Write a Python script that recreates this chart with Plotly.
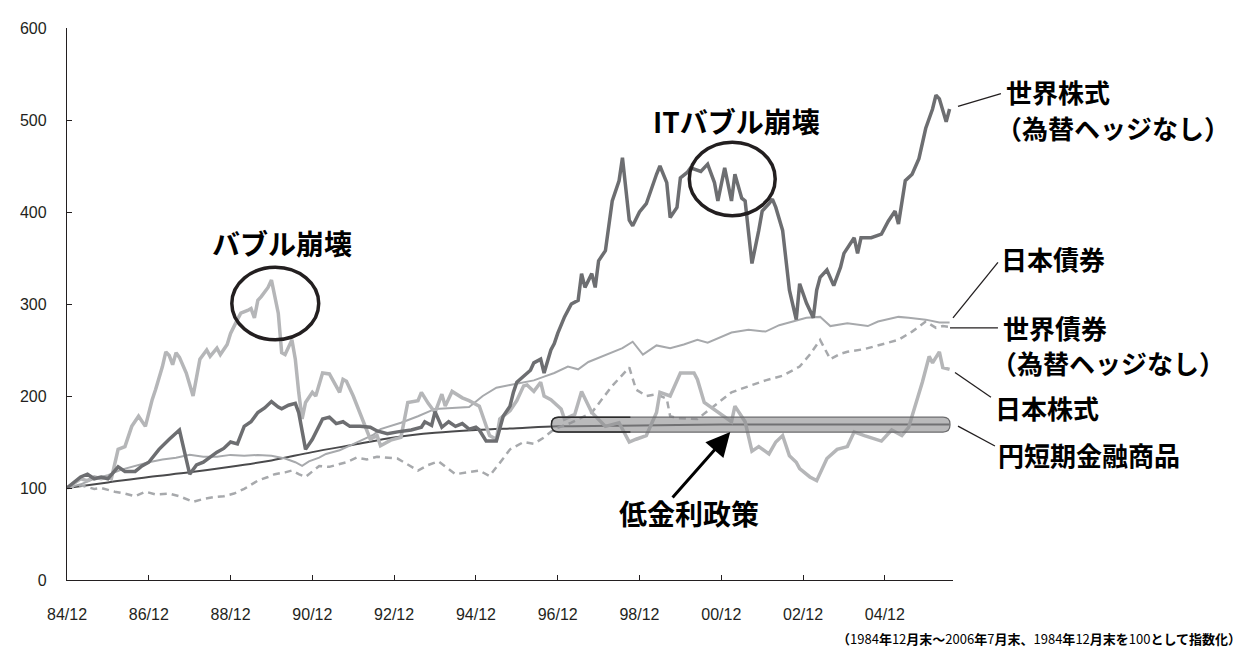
import plotly.graph_objects as go

# ---- data (month offset from 1984/12, index value) ----
tick_months = [0, 24, 48, 72, 96, 120, 144, 168, 192, 216, 240]
tick_labels = ["84/12", "86/12", "88/12", "90/12", "92/12", "94/12",
               "96/12", "98/12", "00/12", "02/12", "04/12"]
y_ticks = [0, 100, 200, 300, 400, 500, 600]

ws_month = [0, 2, 4, 6, 8, 10, 12, 15, 17, 20, 22, 24, 27, 30, 33, 36, 38, 40, 42, 44, 46, 48, 50, 52, 54,
            56, 58, 60, 62, 63, 65, 67, 68, 70, 72, 75, 77, 79, 81, 83, 86, 89, 91, 94, 97, 101, 104,
            105, 107, 108, 110, 112, 114, 116, 118, 120, 121, 123, 126, 128, 130, 131, 132, 134, 136,
            137, 139, 140, 142, 143, 144, 146, 148, 150, 151, 152, 154, 155, 156, 158, 160, 162, 163,
            165, 166, 168, 170, 173, 174, 176, 177, 179, 180, 182, 183, 186, 188, 190, 191, 193, 195,
            196, 198, 199, 201, 203, 204, 206, 207, 208, 210, 212, 214, 215, 217, 219, 220, 221, 223,
            225, 227, 228, 231, 232, 233, 236, 239, 241, 243, 244, 246, 248, 250, 252, 254, 255, 256,
            258, 259]
ws_value = [100, 106, 112, 115, 110, 112, 110, 123, 118, 118, 124, 128, 142, 153, 163, 115, 125, 128, 134,
            139, 143, 150, 148, 167, 172, 182, 187, 194, 188, 186, 190, 192, 182, 142, 153, 175, 177,
            170, 172, 167, 167, 166, 162, 159, 161, 163, 166, 172, 168, 183, 166, 172, 167, 170, 164,
            166, 163, 151, 151, 178, 189, 204, 215, 222, 228, 236, 240, 225, 250, 257, 268, 286, 300,
            304, 333, 318, 333, 318, 347, 358, 412, 434, 459, 391, 385, 400, 409, 441, 450, 432, 394,
            405, 437, 443, 448, 444, 452, 432, 412, 448, 412, 441, 415, 412, 344, 380, 401, 409, 414,
            405, 380, 315, 283, 322, 301, 285, 315, 329, 337, 320, 340, 355, 372, 355, 372, 372, 376,
            390, 401, 387, 434, 441, 458, 491, 512, 527, 523, 498, 512]

js_month = [0, 2, 4, 6, 8, 10, 12, 13, 15, 17, 19, 21, 23, 25, 26, 28, 29, 30, 31, 32, 33, 35, 37, 38,
            39, 41, 42, 44, 45, 47, 48, 50, 51, 53, 54, 55, 56, 57, 59, 60, 62, 63, 64, 66, 67, 68, 69,
            70, 72, 73, 75, 77, 79, 80, 81, 82, 84, 86, 88, 89, 91, 92, 95, 98, 100, 103, 104, 106,
            108, 110, 111, 113, 116, 118, 121, 122, 124, 126, 127, 130, 132, 134, 135, 137, 139, 140,
            142, 145, 146, 149, 151, 154, 158, 162, 165, 167, 170, 173, 174, 177, 180, 184, 185, 187,
            191, 195, 196, 199, 201, 203, 206, 208, 210, 212, 214, 215, 218, 220, 223, 226, 229, 231,
            234, 237, 239, 242, 245, 247, 248, 250, 251, 253, 254, 256, 257, 259]
js_value = [100, 105, 110, 108, 112, 110, 112, 110, 142, 145, 167, 178, 167, 196, 207, 232, 248, 244,
            234, 247, 242, 225, 200, 220, 240, 250, 243, 252, 245, 256, 268, 283, 290, 293, 295, 285,
            304, 308, 318, 326, 290, 247, 245, 261, 240, 204, 175, 193, 204, 200, 225, 224, 211, 204,
            218, 216, 200, 182, 164, 153, 157, 146, 152, 155, 193, 195, 204, 192, 182, 202, 189, 205,
            198, 195, 189, 178, 157, 153, 175, 184, 195, 211, 212, 205, 215, 200, 196, 186, 175, 180,
            205, 182, 167, 171, 150, 153, 157, 182, 204, 200, 225, 225, 218, 193, 182, 172, 189, 172,
            140, 145, 137, 150, 157, 135, 128, 121, 112, 108, 132, 142, 145, 161, 157, 153, 151, 163,
            157, 166, 178, 200, 215, 243, 236, 248, 231, 229]

jb_month = [0, 4, 8, 12, 16, 20, 24, 28, 32, 36, 40, 44, 48, 52, 56, 60, 64, 67, 69, 71, 74, 76, 80, 83,
            86, 90, 92, 98, 103, 108, 113, 118, 122, 126, 130, 133, 137, 140, 143, 147, 150, 153, 155,
            160, 163, 166, 169, 173, 177, 181, 185, 188, 191, 195, 200, 205, 209, 213, 217, 221, 224,
            229, 235, 238, 244, 247, 252, 256, 259]
jb_value = [100, 104, 110, 114, 120, 124, 128, 131, 133, 136, 134, 134, 136, 135, 136, 135, 132, 128,
            124, 129, 133, 137, 141, 146, 151, 158, 164, 171, 178, 186, 187, 188, 200, 209, 212, 214,
            217, 221, 225, 232, 229, 237, 240, 247, 252, 259, 245, 255, 252, 256, 261, 258, 263, 269,
            272, 270, 277, 281, 285, 286, 276, 279, 276, 281, 286, 285, 283, 280, 280]

wb_month = [0, 4, 8, 10, 14, 17, 20, 23, 26, 30, 33, 35, 37, 40, 43, 46, 49, 52, 56, 59, 61, 64, 66, 68,
            70, 72, 74, 77, 80, 82, 85, 88, 91, 97, 103, 106, 109, 112, 114, 121, 124, 128, 130, 134,
            137, 140, 143, 148, 154, 160, 165, 167, 170, 173, 176, 177, 179, 185, 191, 195, 198, 201,
            205, 210, 215, 218, 221, 224, 227, 229, 234, 239, 244, 248, 252, 255, 257, 259]
wb_value = [100, 103, 99, 100, 96, 94, 91, 96, 93, 94, 91, 88, 85, 88, 90, 91, 94, 99, 108, 112, 115,
            117, 119, 115, 112, 118, 124, 123, 126, 128, 133, 131, 134, 132, 119, 125, 129, 120, 115,
            119, 113, 132, 142, 150, 148, 155, 164, 171, 182, 211, 231, 207, 200, 202, 197, 178, 176,
            175, 193, 204, 208, 212, 217, 222, 232, 245, 261, 240, 246, 248, 251, 256, 261, 270, 281,
            274, 276, 275]

ys_month = [0, 12, 24, 36, 48, 60, 72, 84, 96, 108, 120, 132, 144, 168, 192, 216, 240, 259]
ys_value = [100, 106, 112, 117, 123, 130, 139, 147, 155, 160, 163, 165, 167, 168, 169, 169, 169, 169]

# ---- layout geometry (pixels) ----
W, H = 1254, 650
L, R, T, B = 58, 945, 16, 572


def fx(p):
    return (p - L) / (R - L)


def fy(p):
    return (B - p) / (B - T)


fig = go.Figure()
fig.add_trace(go.Scatter(x=ys_month, y=ys_value, mode="lines", line=dict(color="#4a4a4c", width=2, shape="spline")))
fig.add_trace(go.Scatter(x=wb_month, y=wb_value, mode="lines", line=dict(color="#a7a9ac", width=2.5, dash="7px,5px")))
fig.add_trace(go.Scatter(x=jb_month, y=jb_value, mode="lines", line=dict(color="#a7a9ac", width=2)))
fig.add_trace(go.Scatter(x=js_month, y=js_value, mode="lines", line=dict(color="#b5b6b8", width=3.5)))
fig.add_trace(go.Scatter(x=ws_month, y=ws_value, mode="lines", line=dict(color="#6d6e71", width=3.5)))

axis_font = dict(family="Liberation Sans, Arial", size=16, color="#231f20")
fig.update_layout(
    width=W, height=H,
    margin=dict(l=L, r=W - R, t=T, b=H - B, pad=0),
    plot_bgcolor="white", paper_bgcolor="white",
    showlegend=False,
    xaxis=dict(range=[0, 260], tickvals=tick_months, ticktext=tick_labels, showgrid=False,
               zeroline=False, showline=True, linecolor="#231f20", linewidth=1.3,
               ticks="inside", ticklen=5, tickcolor="#231f20", tickfont=axis_font,
               ticklabelstandoff=20),
    yaxis=dict(range=[0, 600], tickvals=y_ticks, showgrid=False, zeroline=False,
               showline=True, linecolor="#231f20", linewidth=1.3, ticks="inside",
               ticklen=5, tickcolor="#231f20", tickfont=axis_font, ticklabelstandoff=16),
)

cjk = "Noto Sans CJK JP"
shapes = []
# circles
for (x0, x1, y0, y1) in [(223, 310, 257, 330), (681, 767, 131, 205)]:
    shapes.append(dict(type="circle", xref="paper", yref="paper", x0=fx(x0), x1=fx(x1),
                       y0=fy(y1), y1=fy(y0), line=dict(color="#231f20", width=3.5)))

# rounded box (low-rate period)
bx0, bx1, by0, by1, rr = 543, 942, 408, 423, 7
rx, ry = rr / (R - L), rr / (B - T)
X0, X1, Yt, Yb = fx(bx0), fx(bx1), fy(by0), fy(by1)
path = (f"M {X0+rx},{Yt} L {X1-rx},{Yt} Q {X1},{Yt} {X1},{Yt-ry} L {X1},{Yb+ry} "
        f"Q {X1},{Yb} {X1-rx},{Yb} L {X0+rx},{Yb} Q {X0},{Yb} {X0},{Yb+ry} L {X0},{Yt-ry} "
        f"Q {X0},{Yt} {X0+rx},{Yt} Z")
shapes.append(dict(type="path", xref="paper", yref="paper", path=path, layer="above",
                   fillcolor="rgba(140,140,142,0.6)", line=dict(color="#6a6a6c", width=1.2)))
Xm = fx(622)
path2 = (f"M {Xm},{Yt} L {X0+rx},{Yt} Q {X0},{Yt} {X0},{Yt-ry} L {X0},{Yb+ry} "
         f"Q {X0},{Yb} {X0+rx},{Yb} L {Xm},{Yb}")
shapes.append(dict(type="path", xref="paper", yref="paper", path=path2, layer="above",
                   line=dict(color="#2a2a2a", width=1.4)))

# leader lines
for (a, b, c, d) in [(950, 95, 993, 82), (945, 308, 990, 252), (942, 318, 990, 318),
                     (947, 363, 983, 388), (950, 417, 987, 437)]:
    shapes.append(dict(type="line", xref="paper", yref="paper", x0=fx(a), y0=fy(b),
                       x1=fx(c), y1=fy(d), line=dict(color="#231f20", width=1.3)))
fig.update_layout(shapes=shapes)

ann = []


def label(text, xp, yp, size, anchor="center"):
    ann.append(dict(text=f"<b>{text}</b>", xref="paper", yref="paper", x=fx(xp), y=fy(yp),
                    xanchor=anchor, yanchor="middle", showarrow=False,
                    font=dict(family=cjk, size=size, color="#000000")))


label("バブル崩壊", 273, 233, 28)
label("ITバブル崩壊", 728, 110, 28)
label("低金利政策", 681, 505, 28)
label("世界株式", 996, 80, 26, "left")
label("（為替ヘッジなし）", 986, 116, 26, "left")
label("日本債券", 991, 248, 26, "left")
label("世界債券", 993, 318, 26, "left")
label("（為替ヘッジなし）", 981, 353, 26, "left")
label("日本株式", 985, 398, 26, "left")
label("円短期金融商品", 988, 446, 26, "left")

# arrow
ann.append(dict(text="", xref="paper", yref="paper", x=fx(722), y=fy(423), ax=-59, ay=67,
                showarrow=True, arrowhead=2, arrowsize=1.6, arrowwidth=3, arrowcolor="#000000"))

note = ("<b>（</b>1984<b>年</b>12<b>月末～</b>2006<b>年</b>7<b>月末、</b>1984<b>年</b>12"
        "<b>月末を</b>100<b>として指数化）</b>")
ann.append(dict(text=note, xref="paper", yref="paper", x=fx(1234), y=fy(631), xanchor="right",
                yanchor="middle", showarrow=False, borderpad=0,
                font=dict(family=cjk, size=13, color="#000000")))
fig.update_layout(annotations=ann)

fig.write_html("out.html")
